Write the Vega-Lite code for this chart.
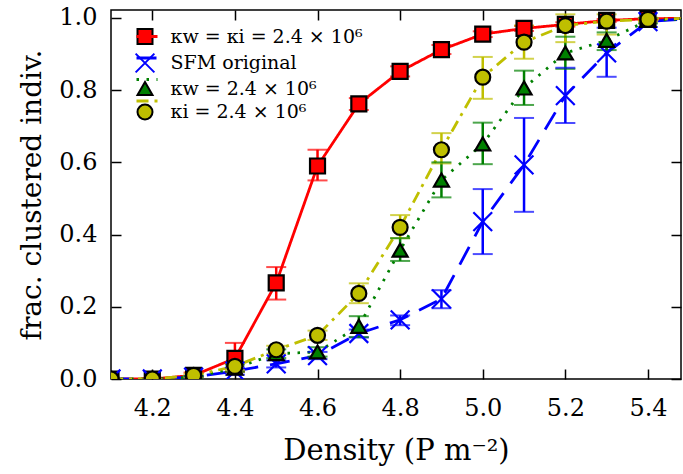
{
  "$schema": "https://vega.github.io/schema/vega-lite/v6.json",
  "width": 570,
  "height": 369,
  "autosize": "none",
  "padding": {"left": 111, "top": 10, "right": 2, "bottom": 95},
  "background": "white",
  "config": {
    "font": "DejaVu Serif",
    "view": {"stroke": "black", "strokeWidth": 1.5},
    "axis": {
      "domain": false, "grid": false, "tickColor": "black", "tickWidth": 1.5, "tickSize": -10,
      "labelFont": "DejaVu Serif", "labelFontSize": 24, "labelColor": "black",
      "titleFont": "DejaVu Serif", "titleFontSize": 28, "titleFontWeight": "normal", "titleColor": "black"
    },
    "legend": {"labelFont": "DejaVu Serif", "labelColor": "black", "labelFontSize": 19, "padding": 0, "rowPadding": 1.5, "labelLimit": 400}
  },
  "data": {
    "values": [
      {"series": "κw = κi = 2.4 × 10⁶", "k": 1, "x": 4.1, "y": 0.0, "lo": 0.0, "hi": 0.0},
      {"series": "κw = κi = 2.4 × 10⁶", "k": 1, "x": 4.2, "y": 0.0, "lo": 0.0, "hi": 0.002},
      {"series": "κw = κi = 2.4 × 10⁶", "k": 1, "x": 4.3, "y": 0.01, "lo": 0.005, "hi": 0.018},
      {"series": "κw = κi = 2.4 × 10⁶", "k": 1, "x": 4.4, "y": 0.057, "lo": 0.02, "hi": 0.1},
      {"series": "κw = κi = 2.4 × 10⁶", "k": 1, "x": 4.5, "y": 0.266, "lo": 0.22, "hi": 0.31},
      {"series": "κw = κi = 2.4 × 10⁶", "k": 1, "x": 4.6, "y": 0.59, "lo": 0.55, "hi": 0.635},
      {"series": "κw = κi = 2.4 × 10⁶", "k": 1, "x": 4.7, "y": 0.762, "lo": 0.745, "hi": 0.778},
      {"series": "κw = κi = 2.4 × 10⁶", "k": 1, "x": 4.8, "y": 0.852, "lo": 0.838, "hi": 0.866},
      {"series": "κw = κi = 2.4 × 10⁶", "k": 1, "x": 4.9, "y": 0.912, "lo": 0.9, "hi": 0.925},
      {"series": "κw = κi = 2.4 × 10⁶", "k": 1, "x": 5.0, "y": 0.955, "lo": 0.947, "hi": 0.963},
      {"series": "κw = κi = 2.4 × 10⁶", "k": 1, "x": 5.1, "y": 0.971, "lo": 0.964, "hi": 0.978},
      {"series": "κw = κi = 2.4 × 10⁶", "k": 1, "x": 5.2, "y": 0.982, "lo": 0.976, "hi": 0.988},
      {"series": "κw = κi = 2.4 × 10⁶", "k": 1, "x": 5.3, "y": 0.993, "lo": 0.989, "hi": 0.997},
      {"series": "κw = κi = 2.4 × 10⁶", "k": 1, "x": 5.4, "y": 0.998, "lo": 0.996, "hi": 1.0},
      {"series": "κw = κi = 2.4 × 10⁶", "k": 1, "x": 5.5, "y": 0.999, "lo": 0.999, "hi": 0.999},
      {"series": "SFM original", "k": 2, "x": 4.1, "y": 0.0, "lo": 0.0, "hi": 0.0},
      {"series": "SFM original", "k": 2, "x": 4.2, "y": 0.0, "lo": 0.0, "hi": 0.0},
      {"series": "SFM original", "k": 2, "x": 4.3, "y": 0.005, "lo": 0.002, "hi": 0.008},
      {"series": "SFM original", "k": 2, "x": 4.4, "y": 0.022, "lo": 0.012, "hi": 0.032},
      {"series": "SFM original", "k": 2, "x": 4.5, "y": 0.042, "lo": 0.032, "hi": 0.052},
      {"series": "SFM original", "k": 2, "x": 4.6, "y": 0.065, "lo": 0.055, "hi": 0.075},
      {"series": "SFM original", "k": 2, "x": 4.7, "y": 0.126, "lo": 0.115, "hi": 0.137},
      {"series": "SFM original", "k": 2, "x": 4.8, "y": 0.164, "lo": 0.149, "hi": 0.176},
      {"series": "SFM original", "k": 2, "x": 4.9, "y": 0.222, "lo": 0.196, "hi": 0.246},
      {"series": "SFM original", "k": 2, "x": 5.0, "y": 0.436, "lo": 0.346, "hi": 0.526},
      {"series": "SFM original", "k": 2, "x": 5.1, "y": 0.593, "lo": 0.463, "hi": 0.723},
      {"series": "SFM original", "k": 2, "x": 5.2, "y": 0.785, "lo": 0.709, "hi": 0.862},
      {"series": "SFM original", "k": 2, "x": 5.3, "y": 0.903, "lo": 0.837, "hi": 0.973},
      {"series": "SFM original", "k": 2, "x": 5.4, "y": 0.99, "lo": 0.975, "hi": 1.0},
      {"series": "SFM original", "k": 2, "x": 5.5, "y": 0.998, "lo": 0.998, "hi": 0.998},
      {"series": "κw = 2.4 × 10⁶", "k": 3, "x": 4.1, "y": 0.0, "lo": 0.0, "hi": 0.0},
      {"series": "κw = 2.4 × 10⁶", "k": 3, "x": 4.2, "y": 0.0, "lo": 0.0, "hi": 0.0},
      {"series": "κw = 2.4 × 10⁶", "k": 3, "x": 4.3, "y": 0.005, "lo": 0.002, "hi": 0.008},
      {"series": "κw = 2.4 × 10⁶", "k": 3, "x": 4.4, "y": 0.03, "lo": 0.02, "hi": 0.04},
      {"series": "κw = 2.4 × 10⁶", "k": 3, "x": 4.5, "y": 0.07, "lo": 0.058, "hi": 0.082},
      {"series": "κw = 2.4 × 10⁶", "k": 3, "x": 4.6, "y": 0.075, "lo": 0.062, "hi": 0.088},
      {"series": "κw = 2.4 × 10⁶", "k": 3, "x": 4.7, "y": 0.146, "lo": 0.116, "hi": 0.174},
      {"series": "κw = 2.4 × 10⁶", "k": 3, "x": 4.8, "y": 0.357, "lo": 0.327, "hi": 0.39},
      {"series": "κw = 2.4 × 10⁶", "k": 3, "x": 4.9, "y": 0.551, "lo": 0.503, "hi": 0.6},
      {"series": "κw = 2.4 × 10⁶", "k": 3, "x": 5.0, "y": 0.651, "lo": 0.595, "hi": 0.71},
      {"series": "κw = 2.4 × 10⁶", "k": 3, "x": 5.1, "y": 0.806, "lo": 0.759, "hi": 0.854},
      {"series": "κw = 2.4 × 10⁶", "k": 3, "x": 5.2, "y": 0.903, "lo": 0.859, "hi": 0.948},
      {"series": "κw = 2.4 × 10⁶", "k": 3, "x": 5.3, "y": 0.938, "lo": 0.911, "hi": 0.96},
      {"series": "κw = 2.4 × 10⁶", "k": 3, "x": 5.4, "y": 0.993, "lo": 0.985, "hi": 1.0},
      {"series": "κw = 2.4 × 10⁶", "k": 3, "x": 5.5, "y": 0.998, "lo": 0.998, "hi": 0.998},
      {"series": "κi = 2.4 × 10⁶", "k": 4, "x": 4.1, "y": 0.0, "lo": 0.0, "hi": 0.0},
      {"series": "κi = 2.4 × 10⁶", "k": 4, "x": 4.2, "y": 0.0, "lo": 0.0, "hi": 0.0},
      {"series": "κi = 2.4 × 10⁶", "k": 4, "x": 4.3, "y": 0.01, "lo": 0.005, "hi": 0.015},
      {"series": "κi = 2.4 × 10⁶", "k": 4, "x": 4.4, "y": 0.035, "lo": 0.025, "hi": 0.045},
      {"series": "κi = 2.4 × 10⁶", "k": 4, "x": 4.5, "y": 0.081, "lo": 0.07, "hi": 0.092},
      {"series": "κi = 2.4 × 10⁶", "k": 4, "x": 4.6, "y": 0.121, "lo": 0.108, "hi": 0.134},
      {"series": "κi = 2.4 × 10⁶", "k": 4, "x": 4.7, "y": 0.237, "lo": 0.21, "hi": 0.265},
      {"series": "κi = 2.4 × 10⁶", "k": 4, "x": 4.8, "y": 0.42, "lo": 0.39, "hi": 0.454},
      {"series": "κi = 2.4 × 10⁶", "k": 4, "x": 4.9, "y": 0.635, "lo": 0.597, "hi": 0.681},
      {"series": "κi = 2.4 × 10⁶", "k": 4, "x": 5.0, "y": 0.836, "lo": 0.776, "hi": 0.892},
      {"series": "κi = 2.4 × 10⁶", "k": 4, "x": 5.1, "y": 0.933, "lo": 0.887, "hi": 0.979},
      {"series": "κi = 2.4 × 10⁶", "k": 4, "x": 5.2, "y": 0.979, "lo": 0.933, "hi": 1.01},
      {"series": "κi = 2.4 × 10⁶", "k": 4, "x": 5.3, "y": 0.991, "lo": 0.954, "hi": 1.01},
      {"series": "κi = 2.4 × 10⁶", "k": 4, "x": 5.4, "y": 0.996, "lo": 0.99, "hi": 1.0},
      {"series": "κi = 2.4 × 10⁶", "k": 4, "x": 5.5, "y": 0.999, "lo": 0.999, "hi": 0.999}
    ]
  },
  "layer": [
    {
      "mark": {"type": "line", "strokeWidth": 2.8, "clip": true},
      "encoding": {
        "x": {"field": "x", "type": "quantitative", "scale": {"domain": [4.1, 5.48], "nice": false, "zero": false},
              "axis": {"values": [4.2, 4.4, 4.6, 4.8, 5.0, 5.2, 5.4], "format": ".1f", "labelPadding": 27, "title": "Density (P m⁻²)", "titlePadding": 16, "titleFontSize": 29}},
        "y": {"field": "y", "type": "quantitative", "scale": {"domain": [0, 1.022], "nice": false, "zero": false},
              "axis": {"values": [0, 0.2, 0.4, 0.6, 0.8, 1.0], "format": ".1f", "labelPadding": 24, "title": "frac. clustered indiv.", "titlePadding": 12}},
        "color": {"field": "series", "type": "nominal",
                  "sort": {"field": "k", "op": "min"},
                  "scale": {"range": ["#ff0000", "#0000ff", "#008000", "#bfbf00"]},
                  "legend": {"orient": "top-left", "offset": 17, "title": null, "symbolType": "M-2.1,0H2.1", "symbolSize": 100, "symbolStrokeWidth": 3, "symbolOffset": 9.5, "labelExpr": "''"}},
        "strokeDash": {"field": "series", "type": "nominal",
                  "sort": {"field": "k", "op": "min"},
                  "scale": {"range": [[1, 0], [20, 12], [2.5, 7.5], [12, 6, 3, 6]]},
                  "legend": {"orient": "top-left", "offset": 17, "title": null, "symbolType": "M-2.1,0H2.1", "symbolSize": 100, "symbolStrokeWidth": 3, "symbolOffset": 9.5, "labelExpr": "''"}}
      }
    },
    {
      "mark": {"type": "rule", "strokeWidth": 2.5, "clip": true},
      "encoding": {
        "x": {"field": "x", "type": "quantitative", "scale": {"domain": [4.1, 5.48], "nice": false, "zero": false}, "axis": null},
        "y": {"field": "lo", "type": "quantitative", "scale": {"domain": [0, 1.022], "nice": false, "zero": false}, "axis": null},
        "y2": {"field": "hi"},
        "color": {"field": "series", "type": "nominal", "sort": {"field": "k", "op": "min"}, "scale": {"range": ["#ff0000", "#0000ff", "#008000", "#bfbf00"]}, "legend": null}
      }
    },
    {
      "mark": {"type": "tick", "orient": "horizontal", "size": 20, "thickness": 2, "clip": true},
      "encoding": {
        "x": {"field": "x", "type": "quantitative", "scale": {"domain": [4.1, 5.48], "nice": false, "zero": false}, "axis": null},
        "y": {"field": "lo", "type": "quantitative", "scale": {"domain": [0, 1.022], "nice": false, "zero": false}, "axis": null},
        "color": {"field": "series", "type": "nominal", "sort": {"field": "k", "op": "min"}, "scale": {"range": ["#ff0000", "#0000ff", "#008000", "#bfbf00"]}, "legend": null}
      }
    },
    {
      "mark": {"type": "tick", "orient": "horizontal", "size": 20, "thickness": 2, "clip": true},
      "encoding": {
        "x": {"field": "x", "type": "quantitative", "scale": {"domain": [4.1, 5.48], "nice": false, "zero": false}, "axis": null},
        "y": {"field": "hi", "type": "quantitative", "scale": {"domain": [0, 1.022], "nice": false, "zero": false}, "axis": null},
        "color": {"field": "series", "type": "nominal", "sort": {"field": "k", "op": "min"}, "scale": {"range": ["#ff0000", "#0000ff", "#008000", "#bfbf00"]}, "legend": null}
      }
    },
    {
      "transform": [{"filter": "datum.x < 5.45"}],
      "mark": {"type": "point", "filled": true, "opacity": 1, "strokeWidth": 2.2, "size": 225, "clip": true},
      "encoding": {
        "x": {"field": "x", "type": "quantitative", "scale": {"domain": [4.1, 5.48], "nice": false, "zero": false}, "axis": null},
        "y": {"field": "y", "type": "quantitative", "scale": {"domain": [0, 1.022], "nice": false, "zero": false}, "axis": null},
        "fill": {"field": "series", "type": "nominal",
                 "sort": {"field": "k", "op": "min"},
                 "scale": {"range": ["#ff0000", "#0000ff", "#008000", "#bfbf00"]},
                 "legend": {"orient": "none", "legendX": 24.5, "legendY": 17, "title": null, "symbolSize": 225, "symbolStrokeWidth": 2, "labelOffset": 16}},
        "stroke": {"field": "series", "type": "nominal",
                 "sort": {"field": "k", "op": "min"},
                 "scale": {"range": ["#000000", "#0000ff", "#000000", "#000000"]},
                 "legend": {"orient": "none", "legendX": 24.5, "legendY": 17, "title": null, "symbolSize": 225, "symbolStrokeWidth": 2, "labelOffset": 16}},
        "shape": {"field": "series", "type": "nominal",
                 "sort": {"field": "k", "op": "min"},
                 "scale": {"range": ["square", "M-1.25,-1.25L1.25,1.25M-1.25,1.25L1.25,-1.25", "triangle-up", "circle"]},
                 "legend": {"orient": "none", "legendX": 24.5, "legendY": 17, "title": null, "symbolSize": 225, "symbolStrokeWidth": 2, "labelOffset": 16}}
      }
    },
    {
      "mark": {"type": "point", "opacity": 0},
      "encoding": {
        "x": {"field": "x", "type": "quantitative", "scale": {"domain": [4.1, 5.48], "nice": false, "zero": false},
              "axis": {"orient": "top", "values": [4.2, 4.4, 4.6, 4.8, 5.0, 5.2, 5.4], "labels": false, "title": null}},
        "y": {"field": "y", "type": "quantitative", "scale": {"domain": [0, 1.022], "nice": false, "zero": false},
              "axis": {"orient": "right", "values": [0, 0.2, 0.4, 0.6, 0.8, 1.0], "labels": false, "title": null}}
      }
    }
  ],
  "resolve": {"axis": {"x": "independent", "y": "independent"}, "scale": {"color": "independent", "strokeDash": "independent"}}
}
